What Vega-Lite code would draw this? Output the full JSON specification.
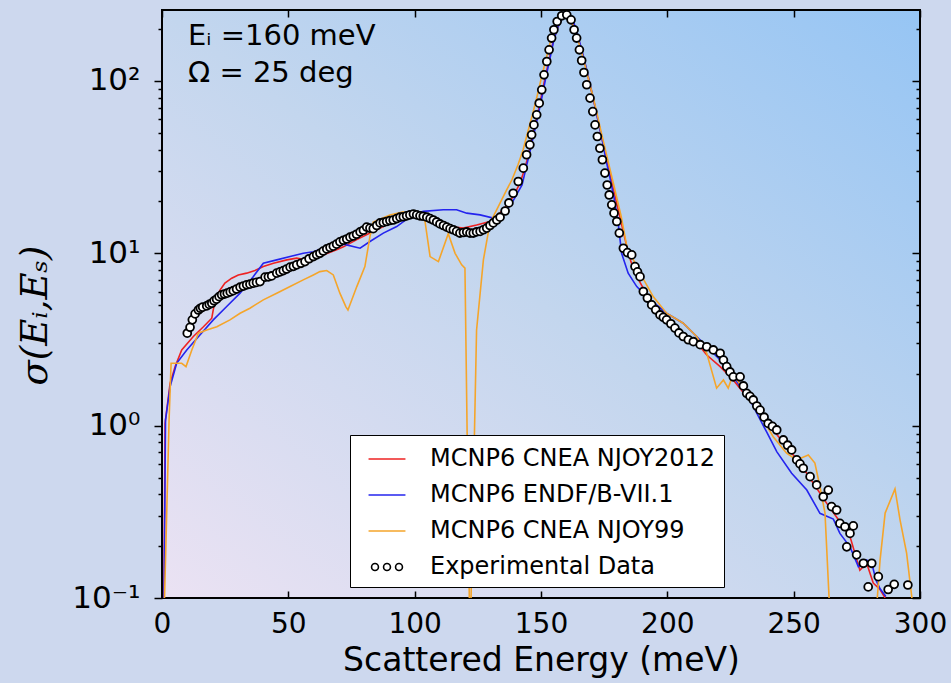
{
  "$schema": "https://vega.github.io/schema/vega-lite/v6.json",
  "width": 758,
  "height": 588,
  "autosize": {"type": "none"},
  "padding": {"left": 162, "top": 10, "right": 31, "bottom": 85},
  "background": "#cdd8ee",
  "config": {
    "view": {
      "stroke": "black",
      "strokeWidth": 2,
      "fill": {"gradient": "linear", "x1": 0, "y1": 1, "x2": 1, "y2": 0,
        "stops": [{"offset": 0, "color": "#ebe2f3"}, {"offset": 0.5, "color": "#c3d6ee"}, {"offset": 1, "color": "#96c5f4"}]}
    },
    "axis": {"grid": false, "domain": false, "labelFont": "DejaVu Sans", "labelColor": "black", "tickColor": "black", "tickWidth": 1.5, "titleFont": "DejaVu Sans", "titleColor": "black", "titleFontWeight": "normal"}
  },
  "datasets": {
    "sim": [
      {"series": "MCNP6 CNEA NJOY2012", "energy": 0.8, "sigma": 0.1},
      {"series": "MCNP6 CNEA NJOY2012", "energy": 1.2, "sigma": 1.03},
      {"series": "MCNP6 CNEA NJOY2012", "energy": 3.2, "sigma": 1.76},
      {"series": "MCNP6 CNEA NJOY2012", "energy": 5.2, "sigma": 2.2},
      {"series": "MCNP6 CNEA NJOY2012", "energy": 7.8, "sigma": 2.75},
      {"series": "MCNP6 CNEA NJOY2012", "energy": 12.4, "sigma": 3.29},
      {"series": "MCNP6 CNEA NJOY2012", "energy": 16.4, "sigma": 3.75},
      {"series": "MCNP6 CNEA NJOY2012", "energy": 19.7, "sigma": 4.2},
      {"series": "MCNP6 CNEA NJOY2012", "energy": 21.0, "sigma": 5.37},
      {"series": "MCNP6 CNEA NJOY2012", "energy": 23.0, "sigma": 6.13},
      {"series": "MCNP6 CNEA NJOY2012", "energy": 24.9, "sigma": 6.71},
      {"series": "MCNP6 CNEA NJOY2012", "energy": 27.6, "sigma": 7.17},
      {"series": "MCNP6 CNEA NJOY2012", "energy": 30.2, "sigma": 7.49},
      {"series": "MCNP6 CNEA NJOY2012", "energy": 33.5, "sigma": 7.67},
      {"series": "MCNP6 CNEA NJOY2012", "energy": 36.8, "sigma": 7.94},
      {"series": "MCNP6 CNEA NJOY2012", "energy": 40.1, "sigma": 8.37},
      {"series": "MCNP6 CNEA NJOY2012", "energy": 44.1, "sigma": 8.76},
      {"series": "MCNP6 CNEA NJOY2012", "energy": 49.4, "sigma": 9.16},
      {"series": "MCNP6 CNEA NJOY2012", "energy": 53.3, "sigma": 9.37},
      {"series": "MCNP6 CNEA NJOY2012", "energy": 56.6, "sigma": 9.16},
      {"series": "MCNP6 CNEA NJOY2012", "energy": 59.9, "sigma": 9.37},
      {"series": "MCNP6 CNEA NJOY2012", "energy": 63.8, "sigma": 9.79},
      {"series": "MCNP6 CNEA NJOY2012", "energy": 69.1, "sigma": 10.5},
      {"series": "MCNP6 CNEA NJOY2012", "energy": 71.8, "sigma": 10.9},
      {"series": "MCNP6 CNEA NJOY2012", "energy": 77.1, "sigma": 12.0},
      {"series": "MCNP6 CNEA NJOY2012", "energy": 82.3, "sigma": 13.1},
      {"series": "MCNP6 CNEA NJOY2012", "energy": 87.6, "sigma": 14.3},
      {"series": "MCNP6 CNEA NJOY2012", "energy": 92.9, "sigma": 15.6},
      {"series": "MCNP6 CNEA NJOY2012", "energy": 96.8, "sigma": 16.3},
      {"series": "MCNP6 CNEA NJOY2012", "energy": 100.8, "sigma": 16.5},
      {"series": "MCNP6 CNEA NJOY2012", "energy": 104.8, "sigma": 15.6},
      {"series": "MCNP6 CNEA NJOY2012", "energy": 108.7, "sigma": 15.0},
      {"series": "MCNP6 CNEA NJOY2012", "energy": 114.0, "sigma": 14.3},
      {"series": "MCNP6 CNEA NJOY2012", "energy": 119.2, "sigma": 14.0},
      {"series": "MCNP6 CNEA NJOY2012", "energy": 124.5, "sigma": 14.6},
      {"series": "MCNP6 CNEA NJOY2012", "energy": 129.8, "sigma": 15.3},
      {"series": "MCNP6 CNEA NJOY2012", "energy": 133.8, "sigma": 17.1},
      {"series": "MCNP6 CNEA NJOY2012", "energy": 137.7, "sigma": 20.0},
      {"series": "MCNP6 CNEA NJOY2012", "energy": 139.7, "sigma": 22.3},
      {"series": "MCNP6 CNEA NJOY2012", "energy": 141.7, "sigma": 25.6},
      {"series": "MCNP6 CNEA NJOY2012", "energy": 143.7, "sigma": 31.3},
      {"series": "MCNP6 CNEA NJOY2012", "energy": 145.2, "sigma": 38.3},
      {"series": "MCNP6 CNEA NJOY2012", "energy": 146.8, "sigma": 48.7},
      {"series": "MCNP6 CNEA NJOY2012", "energy": 148.4, "sigma": 61.9},
      {"series": "MCNP6 CNEA NJOY2012", "energy": 150.0, "sigma": 79.8},
      {"series": "MCNP6 CNEA NJOY2012", "energy": 151.6, "sigma": 104},
      {"series": "MCNP6 CNEA NJOY2012", "energy": 153.2, "sigma": 133},
      {"series": "MCNP6 CNEA NJOY2012", "energy": 154.7, "sigma": 166},
      {"series": "MCNP6 CNEA NJOY2012", "energy": 156.3, "sigma": 198},
      {"series": "MCNP6 CNEA NJOY2012", "energy": 157.9, "sigma": 226},
      {"series": "MCNP6 CNEA NJOY2012", "energy": 159.5, "sigma": 245},
      {"series": "MCNP6 CNEA NJOY2012", "energy": 161.1, "sigma": 242},
      {"series": "MCNP6 CNEA NJOY2012", "energy": 162.7, "sigma": 220},
      {"series": "MCNP6 CNEA NJOY2012", "energy": 164.2, "sigma": 188},
      {"series": "MCNP6 CNEA NJOY2012", "energy": 165.8, "sigma": 156},
      {"series": "MCNP6 CNEA NJOY2012", "energy": 167.4, "sigma": 126},
      {"series": "MCNP6 CNEA NJOY2012", "energy": 169.0, "sigma": 100},
      {"series": "MCNP6 CNEA NJOY2012", "energy": 170.6, "sigma": 79.8},
      {"series": "MCNP6 CNEA NJOY2012", "energy": 172.2, "sigma": 62.7},
      {"series": "MCNP6 CNEA NJOY2012", "energy": 173.7, "sigma": 49.3},
      {"series": "MCNP6 CNEA NJOY2012", "energy": 175.3, "sigma": 38.8},
      {"series": "MCNP6 CNEA NJOY2012", "energy": 176.9, "sigma": 30.5},
      {"series": "MCNP6 CNEA NJOY2012", "energy": 178.5, "sigma": 24.0},
      {"series": "MCNP6 CNEA NJOY2012", "energy": 180.1, "sigma": 19.1},
      {"series": "MCNP6 CNEA NJOY2012", "energy": 181.7, "sigma": 15.2},
      {"series": "MCNP6 CNEA NJOY2012", "energy": 183.6, "sigma": 11.5},
      {"series": "MCNP6 CNEA NJOY2012", "energy": 185.6, "sigma": 8.92},
      {"series": "MCNP6 CNEA NJOY2012", "energy": 187.9, "sigma": 7.32},
      {"series": "MCNP6 CNEA NJOY2012", "energy": 193.1, "sigma": 5.37},
      {"series": "MCNP6 CNEA NJOY2012", "energy": 198.4, "sigma": 4.11},
      {"series": "MCNP6 CNEA NJOY2012", "energy": 203.7, "sigma": 3.44},
      {"series": "MCNP6 CNEA NJOY2012", "energy": 207.7, "sigma": 3.14},
      {"series": "MCNP6 CNEA NJOY2012", "energy": 213.0, "sigma": 2.87},
      {"series": "MCNP6 CNEA NJOY2012", "energy": 215.6, "sigma": 2.57},
      {"series": "MCNP6 CNEA NJOY2012", "energy": 220.9, "sigma": 2.2},
      {"series": "MCNP6 CNEA NJOY2012", "energy": 226.1, "sigma": 1.84},
      {"series": "MCNP6 CNEA NJOY2012", "energy": 231.4, "sigma": 1.47},
      {"series": "MCNP6 CNEA NJOY2012", "energy": 236.7, "sigma": 1.18},
      {"series": "MCNP6 CNEA NJOY2012", "energy": 241.9, "sigma": 0.944},
      {"series": "MCNP6 CNEA NJOY2012", "energy": 247.2, "sigma": 0.755},
      {"series": "MCNP6 CNEA NJOY2012", "energy": 252.5, "sigma": 0.605},
      {"series": "MCNP6 CNEA NJOY2012", "energy": 257.8, "sigma": 0.463},
      {"series": "MCNP6 CNEA NJOY2012", "energy": 263.1, "sigma": 0.354},
      {"series": "MCNP6 CNEA NJOY2012", "energy": 268.3, "sigma": 0.277},
      {"series": "MCNP6 CNEA NJOY2012", "energy": 272.3, "sigma": 0.227},
      {"series": "MCNP6 CNEA NJOY2012", "energy": 276.2, "sigma": 0.145},
      {"series": "MCNP6 CNEA NJOY2012", "energy": 278.9, "sigma": 0.159},
      {"series": "MCNP6 CNEA NJOY2012", "energy": 281.5, "sigma": 0.122},
      {"series": "MCNP6 CNEA NJOY2012", "energy": 284.2, "sigma": 0.112},
      {"series": "MCNP6 CNEA NJOY2012", "energy": 286.2, "sigma": 0.1},

      {"series": "MCNP6 ENDF/B-VII.1", "energy": 0.8, "sigma": 0.1},
      {"series": "MCNP6 ENDF/B-VII.1", "energy": 1.4, "sigma": 1.08},
      {"series": "MCNP6 ENDF/B-VII.1", "energy": 3.2, "sigma": 1.68},
      {"series": "MCNP6 ENDF/B-VII.1", "energy": 5.8, "sigma": 2.3},
      {"series": "MCNP6 ENDF/B-VII.1", "energy": 9.8, "sigma": 2.75},
      {"series": "MCNP6 ENDF/B-VII.1", "energy": 15.0, "sigma": 3.36},
      {"series": "MCNP6 ENDF/B-VII.1", "energy": 20.3, "sigma": 4.11},
      {"series": "MCNP6 ENDF/B-VII.1", "energy": 25.6, "sigma": 4.91},
      {"series": "MCNP6 ENDF/B-VII.1", "energy": 30.9, "sigma": 5.87},
      {"series": "MCNP6 ENDF/B-VII.1", "energy": 36.1, "sigma": 7.32},
      {"series": "MCNP6 ENDF/B-VII.1", "energy": 40.1, "sigma": 8.76},
      {"series": "MCNP6 ENDF/B-VII.1", "energy": 45.4, "sigma": 9.16},
      {"series": "MCNP6 ENDF/B-VII.1", "energy": 50.7, "sigma": 9.57},
      {"series": "MCNP6 ENDF/B-VII.1", "energy": 55.9, "sigma": 10.0},
      {"series": "MCNP6 ENDF/B-VII.1", "energy": 59.9, "sigma": 10.2},
      {"series": "MCNP6 ENDF/B-VII.1", "energy": 63.8, "sigma": 10.7},
      {"series": "MCNP6 ENDF/B-VII.1", "energy": 71.8, "sigma": 11.3},
      {"series": "MCNP6 ENDF/B-VII.1", "energy": 78.4, "sigma": 10.7},
      {"series": "MCNP6 ENDF/B-VII.1", "energy": 82.3, "sigma": 11.7},
      {"series": "MCNP6 ENDF/B-VII.1", "energy": 87.6, "sigma": 13.1},
      {"series": "MCNP6 ENDF/B-VII.1", "energy": 92.9, "sigma": 14.3},
      {"series": "MCNP6 ENDF/B-VII.1", "energy": 98.2, "sigma": 16.3},
      {"series": "MCNP6 ENDF/B-VII.1", "energy": 103.4, "sigma": 17.5},
      {"series": "MCNP6 ENDF/B-VII.1", "energy": 111.3, "sigma": 17.9},
      {"series": "MCNP6 ENDF/B-VII.1", "energy": 116.6, "sigma": 17.9},
      {"series": "MCNP6 ENDF/B-VII.1", "energy": 120.6, "sigma": 17.1},
      {"series": "MCNP6 ENDF/B-VII.1", "energy": 125.9, "sigma": 16.7},
      {"series": "MCNP6 ENDF/B-VII.1", "energy": 131.1, "sigma": 16.0},
      {"series": "MCNP6 ENDF/B-VII.1", "energy": 135.1, "sigma": 16.7},
      {"series": "MCNP6 ENDF/B-VII.1", "energy": 138.4, "sigma": 19.5},
      {"series": "MCNP6 ENDF/B-VII.1", "energy": 141.0, "sigma": 22.8},
      {"series": "MCNP6 ENDF/B-VII.1", "energy": 142.5, "sigma": 24.9},
      {"series": "MCNP6 ENDF/B-VII.1", "energy": 144.1, "sigma": 31.3},
      {"series": "MCNP6 ENDF/B-VII.1", "energy": 145.6, "sigma": 38.8},
      {"series": "MCNP6 ENDF/B-VII.1", "energy": 147.2, "sigma": 49.3},
      {"series": "MCNP6 ENDF/B-VII.1", "energy": 148.8, "sigma": 62.7},
      {"series": "MCNP6 ENDF/B-VII.1", "energy": 150.4, "sigma": 80.9},
      {"series": "MCNP6 ENDF/B-VII.1", "energy": 152.0, "sigma": 106},
      {"series": "MCNP6 ENDF/B-VII.1", "energy": 153.6, "sigma": 136},
      {"series": "MCNP6 ENDF/B-VII.1", "energy": 155.1, "sigma": 173},
      {"series": "MCNP6 ENDF/B-VII.1", "energy": 156.7, "sigma": 206},
      {"series": "MCNP6 ENDF/B-VII.1", "energy": 158.3, "sigma": 232},
      {"series": "MCNP6 ENDF/B-VII.1", "energy": 159.9, "sigma": 245},
      {"series": "MCNP6 ENDF/B-VII.1", "energy": 161.5, "sigma": 239},
      {"series": "MCNP6 ENDF/B-VII.1", "energy": 163.1, "sigma": 215},
      {"series": "MCNP6 ENDF/B-VII.1", "energy": 164.6, "sigma": 183},
      {"series": "MCNP6 ENDF/B-VII.1", "energy": 166.2, "sigma": 150},
      {"series": "MCNP6 ENDF/B-VII.1", "energy": 167.8, "sigma": 121},
      {"series": "MCNP6 ENDF/B-VII.1", "energy": 169.4, "sigma": 96.2},
      {"series": "MCNP6 ENDF/B-VII.1", "energy": 171.0, "sigma": 75.6},
      {"series": "MCNP6 ENDF/B-VII.1", "energy": 172.5, "sigma": 59.5},
      {"series": "MCNP6 ENDF/B-VII.1", "energy": 174.1, "sigma": 46.8},
      {"series": "MCNP6 ENDF/B-VII.1", "energy": 175.7, "sigma": 34.9},
      {"series": "MCNP6 ENDF/B-VII.1", "energy": 177.3, "sigma": 27.4},
      {"series": "MCNP6 ENDF/B-VII.1", "energy": 178.9, "sigma": 21.0},
      {"series": "MCNP6 ENDF/B-VII.1", "energy": 180.5, "sigma": 15.2},
      {"series": "MCNP6 ENDF/B-VII.1", "energy": 181.9, "sigma": 10.0},
      {"series": "MCNP6 ENDF/B-VII.1", "energy": 184.5, "sigma": 7.67},
      {"series": "MCNP6 ENDF/B-VII.1", "energy": 187.9, "sigma": 6.41},
      {"series": "MCNP6 ENDF/B-VII.1", "energy": 191.8, "sigma": 5.61},
      {"series": "MCNP6 ENDF/B-VII.1", "energy": 199.7, "sigma": 4.49},
      {"series": "MCNP6 ENDF/B-VII.1", "energy": 206.3, "sigma": 3.93},
      {"series": "MCNP6 ENDF/B-VII.1", "energy": 211.6, "sigma": 3.29},
      {"series": "MCNP6 ENDF/B-VII.1", "energy": 216.9, "sigma": 2.75},
      {"series": "MCNP6 ENDF/B-VII.1", "energy": 220.9, "sigma": 2.41},
      {"series": "MCNP6 ENDF/B-VII.1", "energy": 226.1, "sigma": 1.92},
      {"series": "MCNP6 ENDF/B-VII.1", "energy": 232.7, "sigma": 1.41},
      {"series": "MCNP6 ENDF/B-VII.1", "energy": 235.4, "sigma": 1.18},
      {"series": "MCNP6 ENDF/B-VII.1", "energy": 239.3, "sigma": 0.919},
      {"series": "MCNP6 ENDF/B-VII.1", "energy": 243.3, "sigma": 0.707},
      {"series": "MCNP6 ENDF/B-VII.1", "energy": 249.2, "sigma": 0.53},
      {"series": "MCNP6 ENDF/B-VII.1", "energy": 255.2, "sigma": 0.423},
      {"series": "MCNP6 ENDF/B-VII.1", "energy": 260.4, "sigma": 0.31},
      {"series": "MCNP6 ENDF/B-VII.1", "energy": 265.7, "sigma": 0.287},
      {"series": "MCNP6 ENDF/B-VII.1", "energy": 268.3, "sigma": 0.237},
      {"series": "MCNP6 ENDF/B-VII.1", "energy": 272.3, "sigma": 0.198},
      {"series": "MCNP6 ENDF/B-VII.1", "energy": 275.6, "sigma": 0.152},
      {"series": "MCNP6 ENDF/B-VII.1", "energy": 278.9, "sigma": 0.166},
      {"series": "MCNP6 ENDF/B-VII.1", "energy": 280.9, "sigma": 0.159},
      {"series": "MCNP6 ENDF/B-VII.1", "energy": 282.6, "sigma": 0.127},
      {"series": "MCNP6 ENDF/B-VII.1", "energy": 284.2, "sigma": 0.113},
      {"series": "MCNP6 ENDF/B-VII.1", "energy": 286.5, "sigma": 0.102},

      {"series": "MCNP6 CNEA NJOY99", "energy": 1.0, "sigma": 0.1},
      {"series": "MCNP6 CNEA NJOY99", "energy": 2.0, "sigma": 0.371},
      {"series": "MCNP6 CNEA NJOY99", "energy": 2.8, "sigma": 1.08},
      {"series": "MCNP6 CNEA NJOY99", "energy": 3.6, "sigma": 2.3},
      {"series": "MCNP6 CNEA NJOY99", "energy": 5.8, "sigma": 2.3},
      {"series": "MCNP6 CNEA NJOY99", "energy": 7.8, "sigma": 2.3},
      {"series": "MCNP6 CNEA NJOY99", "energy": 9.5, "sigma": 2.2},
      {"series": "MCNP6 CNEA NJOY99", "energy": 11.8, "sigma": 2.75},
      {"series": "MCNP6 CNEA NJOY99", "energy": 14.4, "sigma": 3.44},
      {"series": "MCNP6 CNEA NJOY99", "energy": 17.7, "sigma": 3.59},
      {"series": "MCNP6 CNEA NJOY99", "energy": 21.7, "sigma": 3.75},
      {"series": "MCNP6 CNEA NJOY99", "energy": 26.9, "sigma": 4.11},
      {"series": "MCNP6 CNEA NJOY99", "energy": 30.9, "sigma": 4.49},
      {"series": "MCNP6 CNEA NJOY99", "energy": 34.8, "sigma": 4.8},
      {"series": "MCNP6 CNEA NJOY99", "energy": 40.1, "sigma": 5.37},
      {"series": "MCNP6 CNEA NJOY99", "energy": 45.4, "sigma": 5.87},
      {"series": "MCNP6 CNEA NJOY99", "energy": 50.7, "sigma": 6.41},
      {"series": "MCNP6 CNEA NJOY99", "energy": 55.9, "sigma": 7.01},
      {"series": "MCNP6 CNEA NJOY99", "energy": 59.9, "sigma": 7.49},
      {"series": "MCNP6 CNEA NJOY99", "energy": 62.5, "sigma": 7.83},
      {"series": "MCNP6 CNEA NJOY99", "energy": 65.2, "sigma": 7.94},
      {"series": "MCNP6 CNEA NJOY99", "energy": 67.8, "sigma": 7.49},
      {"series": "MCNP6 CNEA NJOY99", "energy": 70.4, "sigma": 5.87},
      {"series": "MCNP6 CNEA NJOY99", "energy": 72.8, "sigma": 4.89},
      {"series": "MCNP6 CNEA NJOY99", "energy": 73.6, "sigma": 4.69},
      {"series": "MCNP6 CNEA NJOY99", "energy": 77.1, "sigma": 6.41},
      {"series": "MCNP6 CNEA NJOY99", "energy": 80.3, "sigma": 8.37},
      {"series": "MCNP6 CNEA NJOY99", "energy": 82.3, "sigma": 12.5},
      {"series": "MCNP6 CNEA NJOY99", "energy": 83.6, "sigma": 15.2},
      {"series": "MCNP6 CNEA NJOY99", "energy": 90.2, "sigma": 16.7},
      {"series": "MCNP6 CNEA NJOY99", "energy": 95.5, "sigma": 17.4},
      {"series": "MCNP6 CNEA NJOY99", "energy": 98.2, "sigma": 16.3},
      {"series": "MCNP6 CNEA NJOY99", "energy": 102.1, "sigma": 17.1},
      {"series": "MCNP6 CNEA NJOY99", "energy": 104.1, "sigma": 15.3},
      {"series": "MCNP6 CNEA NJOY99", "energy": 106.1, "sigma": 9.57},
      {"series": "MCNP6 CNEA NJOY99", "energy": 109.4, "sigma": 8.95},
      {"series": "MCNP6 CNEA NJOY99", "energy": 113.3, "sigma": 13.0},
      {"series": "MCNP6 CNEA NJOY99", "energy": 116.0, "sigma": 10.0},
      {"series": "MCNP6 CNEA NJOY99", "energy": 118.6, "sigma": 8.57},
      {"series": "MCNP6 CNEA NJOY99", "energy": 119.9, "sigma": 8.2},
      {"series": "MCNP6 CNEA NJOY99", "energy": 121.9, "sigma": 0.05},
      {"series": "MCNP6 CNEA NJOY99", "energy": 124.5, "sigma": 3.59},
      {"series": "MCNP6 CNEA NJOY99", "energy": 127.2, "sigma": 9.16},
      {"series": "MCNP6 CNEA NJOY99", "energy": 129.8, "sigma": 15.0},
      {"series": "MCNP6 CNEA NJOY99", "energy": 132.5, "sigma": 17.9},
      {"series": "MCNP6 CNEA NJOY99", "energy": 136.4, "sigma": 23.3},
      {"series": "MCNP6 CNEA NJOY99", "energy": 138.5, "sigma": 26.7},
      {"series": "MCNP6 CNEA NJOY99", "energy": 140.9, "sigma": 32.6},
      {"series": "MCNP6 CNEA NJOY99", "energy": 142.9, "sigma": 39.8},
      {"series": "MCNP6 CNEA NJOY99", "energy": 144.8, "sigma": 50.7},
      {"series": "MCNP6 CNEA NJOY99", "energy": 146.8, "sigma": 65.3},
      {"series": "MCNP6 CNEA NJOY99", "energy": 148.4, "sigma": 80.9},
      {"series": "MCNP6 CNEA NJOY99", "energy": 150.0, "sigma": 102},
      {"series": "MCNP6 CNEA NJOY99", "energy": 151.6, "sigma": 127},
      {"series": "MCNP6 CNEA NJOY99", "energy": 153.2, "sigma": 158},
      {"series": "MCNP6 CNEA NJOY99", "energy": 154.7, "sigma": 190},
      {"series": "MCNP6 CNEA NJOY99", "energy": 156.3, "sigma": 217},
      {"series": "MCNP6 CNEA NJOY99", "energy": 157.9, "sigma": 239},
      {"series": "MCNP6 CNEA NJOY99", "energy": 159.5, "sigma": 242},
      {"series": "MCNP6 CNEA NJOY99", "energy": 161.1, "sigma": 232},
      {"series": "MCNP6 CNEA NJOY99", "energy": 162.7, "sigma": 209},
      {"series": "MCNP6 CNEA NJOY99", "energy": 164.2, "sigma": 180},
      {"series": "MCNP6 CNEA NJOY99", "energy": 165.8, "sigma": 152},
      {"series": "MCNP6 CNEA NJOY99", "energy": 167.4, "sigma": 124},
      {"series": "MCNP6 CNEA NJOY99", "energy": 169.0, "sigma": 100},
      {"series": "MCNP6 CNEA NJOY99", "energy": 170.6, "sigma": 80.9},
      {"series": "MCNP6 CNEA NJOY99", "energy": 172.2, "sigma": 64.4},
      {"series": "MCNP6 CNEA NJOY99", "energy": 173.7, "sigma": 51.3},
      {"series": "MCNP6 CNEA NJOY99", "energy": 175.3, "sigma": 40.9},
      {"series": "MCNP6 CNEA NJOY99", "energy": 176.9, "sigma": 32.6},
      {"series": "MCNP6 CNEA NJOY99", "energy": 178.5, "sigma": 26.0},
      {"series": "MCNP6 CNEA NJOY99", "energy": 180.1, "sigma": 20.7},
      {"series": "MCNP6 CNEA NJOY99", "energy": 181.7, "sigma": 16.5},
      {"series": "MCNP6 CNEA NJOY99", "energy": 184.0, "sigma": 10.9},
      {"series": "MCNP6 CNEA NJOY99", "energy": 189.2, "sigma": 7.67},
      {"series": "MCNP6 CNEA NJOY99", "energy": 194.4, "sigma": 5.61},
      {"series": "MCNP6 CNEA NJOY99", "energy": 199.7, "sigma": 4.49},
      {"series": "MCNP6 CNEA NJOY99", "energy": 206.3, "sigma": 3.93},
      {"series": "MCNP6 CNEA NJOY99", "energy": 211.6, "sigma": 3.29},
      {"series": "MCNP6 CNEA NJOY99", "energy": 215.6, "sigma": 2.63},
      {"series": "MCNP6 CNEA NJOY99", "energy": 219.5, "sigma": 1.65},
      {"series": "MCNP6 CNEA NJOY99", "energy": 222.2, "sigma": 1.84},
      {"series": "MCNP6 CNEA NJOY99", "energy": 224.1, "sigma": 1.65},
      {"series": "MCNP6 CNEA NJOY99", "energy": 226.1, "sigma": 2.01},
      {"series": "MCNP6 CNEA NJOY99", "energy": 230.1, "sigma": 1.61},
      {"series": "MCNP6 CNEA NJOY99", "energy": 234.0, "sigma": 1.35},
      {"series": "MCNP6 CNEA NJOY99", "energy": 238.0, "sigma": 1.08},
      {"series": "MCNP6 CNEA NJOY99", "energy": 241.9, "sigma": 0.863},
      {"series": "MCNP6 CNEA NJOY99", "energy": 247.2, "sigma": 0.692},
      {"series": "MCNP6 CNEA NJOY99", "energy": 251.2, "sigma": 0.633},
      {"series": "MCNP6 CNEA NJOY99", "energy": 255.8, "sigma": 0.676},
      {"series": "MCNP6 CNEA NJOY99", "energy": 258.4, "sigma": 0.607},
      {"series": "MCNP6 CNEA NJOY99", "energy": 260.4, "sigma": 0.443},
      {"series": "MCNP6 CNEA NJOY99", "energy": 262.4, "sigma": 0.311},
      {"series": "MCNP6 CNEA NJOY99", "energy": 265.0, "sigma": 0.05},
      {"series": "MCNP6 CNEA NJOY99", "energy": 281.6, "sigma": 0.05},
      {"series": "MCNP6 CNEA NJOY99", "energy": 284.2, "sigma": 0.166},
      {"series": "MCNP6 CNEA NJOY99", "energy": 286.2, "sigma": 0.311},
      {"series": "MCNP6 CNEA NJOY99", "energy": 290.1, "sigma": 0.429},
      {"series": "MCNP6 CNEA NJOY99", "energy": 292.1, "sigma": 0.284},
      {"series": "MCNP6 CNEA NJOY99", "energy": 294.7, "sigma": 0.182},
      {"series": "MCNP6 CNEA NJOY99", "energy": 296.8, "sigma": 0.1}
    ],
    "exp": [
      {"series": "Experimental Data", "energy": 10.0, "sigma": 3.44},
      {"series": "Experimental Data", "energy": 11.1, "sigma": 3.72},
      {"series": "Experimental Data", "energy": 12.0, "sigma": 4.11},
      {"series": "Experimental Data", "energy": 13.1, "sigma": 4.45},
      {"series": "Experimental Data", "energy": 14.4, "sigma": 4.69},
      {"series": "Experimental Data", "energy": 15.2, "sigma": 4.8},
      {"series": "Experimental Data", "energy": 16.1, "sigma": 4.87},
      {"series": "Experimental Data", "energy": 17.7, "sigma": 4.95},
      {"series": "Experimental Data", "energy": 18.7, "sigma": 5.05},
      {"series": "Experimental Data", "energy": 19.7, "sigma": 5.13},
      {"series": "Experimental Data", "energy": 20.6, "sigma": 5.3},
      {"series": "Experimental Data", "energy": 21.6, "sigma": 5.42},
      {"series": "Experimental Data", "energy": 22.6, "sigma": 5.6},
      {"series": "Experimental Data", "energy": 23.6, "sigma": 5.74},
      {"series": "Experimental Data", "energy": 24.7, "sigma": 5.8},
      {"series": "Experimental Data", "energy": 25.8, "sigma": 5.87},
      {"series": "Experimental Data", "energy": 27.0, "sigma": 5.97},
      {"series": "Experimental Data", "energy": 28.2, "sigma": 6.07},
      {"series": "Experimental Data", "energy": 29.5, "sigma": 6.2},
      {"series": "Experimental Data", "energy": 30.9, "sigma": 6.36},
      {"series": "Experimental Data", "energy": 32.2, "sigma": 6.45},
      {"series": "Experimental Data", "energy": 33.5, "sigma": 6.56},
      {"series": "Experimental Data", "energy": 34.8, "sigma": 6.62},
      {"series": "Experimental Data", "energy": 36.1, "sigma": 6.71},
      {"series": "Experimental Data", "energy": 37.4, "sigma": 6.78},
      {"series": "Experimental Data", "energy": 38.8, "sigma": 6.85},
      {"series": "Experimental Data", "energy": 40.8, "sigma": 7.27},
      {"series": "Experimental Data", "energy": 42.1, "sigma": 7.3},
      {"series": "Experimental Data", "energy": 43.4, "sigma": 7.39},
      {"series": "Experimental Data", "energy": 45.4, "sigma": 7.67},
      {"series": "Experimental Data", "energy": 46.7, "sigma": 7.8},
      {"series": "Experimental Data", "energy": 48.0, "sigma": 7.94},
      {"series": "Experimental Data", "energy": 49.3, "sigma": 8.1},
      {"series": "Experimental Data", "energy": 50.7, "sigma": 8.31},
      {"series": "Experimental Data", "energy": 52.0, "sigma": 8.4},
      {"series": "Experimental Data", "energy": 53.3, "sigma": 8.57},
      {"series": "Experimental Data", "energy": 55.0, "sigma": 8.75},
      {"series": "Experimental Data", "energy": 56.6, "sigma": 8.95},
      {"series": "Experimental Data", "energy": 58.2, "sigma": 9.3},
      {"series": "Experimental Data", "energy": 59.9, "sigma": 9.57},
      {"series": "Experimental Data", "energy": 61.2, "sigma": 9.8},
      {"series": "Experimental Data", "energy": 62.5, "sigma": 10.0},
      {"series": "Experimental Data", "energy": 63.8, "sigma": 10.3},
      {"series": "Experimental Data", "energy": 65.2, "sigma": 10.6},
      {"series": "Experimental Data", "energy": 66.5, "sigma": 10.8},
      {"series": "Experimental Data", "energy": 67.8, "sigma": 11.0},
      {"series": "Experimental Data", "energy": 69.1, "sigma": 11.3},
      {"series": "Experimental Data", "energy": 70.4, "sigma": 11.65},
      {"series": "Experimental Data", "energy": 71.8, "sigma": 11.9},
      {"series": "Experimental Data", "energy": 73.1, "sigma": 12.1},
      {"series": "Experimental Data", "energy": 74.4, "sigma": 12.4},
      {"series": "Experimental Data", "energy": 75.7, "sigma": 12.6},
      {"series": "Experimental Data", "energy": 77.0, "sigma": 12.9},
      {"series": "Experimental Data", "energy": 78.4, "sigma": 13.3},
      {"series": "Experimental Data", "energy": 79.7, "sigma": 13.6},
      {"series": "Experimental Data", "energy": 81.0, "sigma": 14.2},
      {"series": "Experimental Data", "energy": 82.3, "sigma": 14.0},
      {"series": "Experimental Data", "energy": 83.6, "sigma": 13.9},
      {"series": "Experimental Data", "energy": 85.0, "sigma": 14.5},
      {"series": "Experimental Data", "energy": 86.3, "sigma": 15.0},
      {"series": "Experimental Data", "energy": 87.6, "sigma": 15.1},
      {"series": "Experimental Data", "energy": 88.9, "sigma": 15.3},
      {"series": "Experimental Data", "energy": 90.2, "sigma": 15.5},
      {"series": "Experimental Data", "energy": 91.5, "sigma": 15.6},
      {"series": "Experimental Data", "energy": 92.9, "sigma": 15.9},
      {"series": "Experimental Data", "energy": 94.2, "sigma": 16.2},
      {"series": "Experimental Data", "energy": 95.5, "sigma": 16.3},
      {"series": "Experimental Data", "energy": 96.8, "sigma": 16.5},
      {"series": "Experimental Data", "energy": 98.1, "sigma": 16.7},
      {"series": "Experimental Data", "energy": 99.5, "sigma": 16.9},
      {"series": "Experimental Data", "energy": 100.8, "sigma": 16.7},
      {"series": "Experimental Data", "energy": 102.1, "sigma": 16.5},
      {"series": "Experimental Data", "energy": 103.4, "sigma": 16.4},
      {"series": "Experimental Data", "energy": 104.8, "sigma": 16.2},
      {"series": "Experimental Data", "energy": 106.1, "sigma": 15.9},
      {"series": "Experimental Data", "energy": 107.4, "sigma": 15.6},
      {"series": "Experimental Data", "energy": 108.7, "sigma": 15.2},
      {"series": "Experimental Data", "energy": 110.0, "sigma": 14.8},
      {"series": "Experimental Data", "energy": 111.4, "sigma": 14.5},
      {"series": "Experimental Data", "energy": 112.7, "sigma": 14.2},
      {"series": "Experimental Data", "energy": 114.0, "sigma": 13.9},
      {"series": "Experimental Data", "energy": 115.3, "sigma": 13.7},
      {"series": "Experimental Data", "energy": 116.6, "sigma": 13.4},
      {"series": "Experimental Data", "energy": 117.9, "sigma": 13.1},
      {"series": "Experimental Data", "energy": 119.3, "sigma": 13.2},
      {"series": "Experimental Data", "energy": 120.6, "sigma": 13.3},
      {"series": "Experimental Data", "energy": 121.9, "sigma": 13.1},
      {"series": "Experimental Data", "energy": 123.2, "sigma": 13.1},
      {"series": "Experimental Data", "energy": 124.5, "sigma": 13.3},
      {"series": "Experimental Data", "energy": 125.9, "sigma": 13.4},
      {"series": "Experimental Data", "energy": 127.2, "sigma": 13.7},
      {"series": "Experimental Data", "energy": 128.5, "sigma": 14.0},
      {"series": "Experimental Data", "energy": 129.8, "sigma": 14.5},
      {"series": "Experimental Data", "energy": 131.1, "sigma": 15.0},
      {"series": "Experimental Data", "energy": 132.5, "sigma": 15.6},
      {"series": "Experimental Data", "energy": 133.8, "sigma": 16.2},
      {"series": "Experimental Data", "energy": 135.8, "sigma": 17.6},
      {"series": "Experimental Data", "energy": 137.3, "sigma": 19.6},
      {"series": "Experimental Data", "energy": 139.0, "sigma": 22.3},
      {"series": "Experimental Data", "energy": 141.0, "sigma": 26.1},
      {"series": "Experimental Data", "energy": 143.0, "sigma": 31.2},
      {"series": "Experimental Data", "energy": 144.3, "sigma": 37.3},
      {"series": "Experimental Data", "energy": 145.6, "sigma": 42.6},
      {"series": "Experimental Data", "energy": 146.3, "sigma": 48.7},
      {"series": "Experimental Data", "energy": 147.2, "sigma": 55.6},
      {"series": "Experimental Data", "energy": 148.3, "sigma": 63.6},
      {"series": "Experimental Data", "energy": 149.3, "sigma": 74.3},
      {"series": "Experimental Data", "energy": 150.3, "sigma": 88.8},
      {"series": "Experimental Data", "energy": 151.2, "sigma": 108.5},
      {"series": "Experimental Data", "energy": 152.3, "sigma": 129.7},
      {"series": "Experimental Data", "energy": 153.2, "sigma": 151.6},
      {"series": "Experimental Data", "energy": 154.2, "sigma": 177.3},
      {"series": "Experimental Data", "energy": 155.1, "sigma": 198.1},
      {"series": "Experimental Data", "energy": 156.4, "sigma": 221.2},
      {"series": "Experimental Data", "energy": 158.2, "sigma": 238.8},
      {"series": "Experimental Data", "energy": 160.2, "sigma": 241.9},
      {"series": "Experimental Data", "energy": 161.9, "sigma": 226.3},
      {"series": "Experimental Data", "energy": 163.1, "sigma": 198.1},
      {"series": "Experimental Data", "energy": 164.1, "sigma": 177.3},
      {"series": "Experimental Data", "energy": 165.2, "sigma": 151.6},
      {"series": "Experimental Data", "energy": 166.1, "sigma": 131.4},
      {"series": "Experimental Data", "energy": 167.0, "sigma": 111.9},
      {"series": "Experimental Data", "energy": 168.1, "sigma": 95.0},
      {"series": "Experimental Data", "energy": 169.4, "sigma": 79.5},
      {"series": "Experimental Data", "energy": 170.5, "sigma": 66.4},
      {"series": "Experimental Data", "energy": 171.4, "sigma": 55.6},
      {"series": "Experimental Data", "energy": 172.3, "sigma": 47.6},
      {"series": "Experimental Data", "energy": 173.3, "sigma": 40.7},
      {"series": "Experimental Data", "energy": 174.3, "sigma": 34.9},
      {"series": "Experimental Data", "energy": 175.3, "sigma": 29.2},
      {"series": "Experimental Data", "energy": 176.2, "sigma": 24.9},
      {"series": "Experimental Data", "energy": 177.0, "sigma": 21.8},
      {"series": "Experimental Data", "energy": 178.0, "sigma": 19.1},
      {"series": "Experimental Data", "energy": 178.9, "sigma": 17.1},
      {"series": "Experimental Data", "energy": 180.0, "sigma": 15.3},
      {"series": "Experimental Data", "energy": 181.0, "sigma": 13.1},
      {"series": "Experimental Data", "energy": 182.6, "sigma": 10.7},
      {"series": "Experimental Data", "energy": 184.2, "sigma": 10.1},
      {"series": "Experimental Data", "energy": 185.9, "sigma": 9.79},
      {"series": "Experimental Data", "energy": 187.2, "sigma": 8.37},
      {"series": "Experimental Data", "energy": 188.2, "sigma": 7.8},
      {"series": "Experimental Data", "energy": 189.2, "sigma": 7.32},
      {"series": "Experimental Data", "energy": 190.5, "sigma": 6.0},
      {"series": "Experimental Data", "energy": 192.1, "sigma": 5.5},
      {"series": "Experimental Data", "energy": 193.8, "sigma": 5.02},
      {"series": "Experimental Data", "energy": 195.4, "sigma": 4.7},
      {"series": "Experimental Data", "energy": 197.1, "sigma": 4.39},
      {"series": "Experimental Data", "energy": 198.4, "sigma": 4.25},
      {"series": "Experimental Data", "energy": 199.7, "sigma": 4.11},
      {"series": "Experimental Data", "energy": 201.4, "sigma": 3.9},
      {"series": "Experimental Data", "energy": 203.0, "sigma": 3.68},
      {"series": "Experimental Data", "energy": 204.6, "sigma": 3.45},
      {"series": "Experimental Data", "energy": 206.3, "sigma": 3.29},
      {"series": "Experimental Data", "energy": 208.3, "sigma": 3.15},
      {"series": "Experimental Data", "energy": 210.3, "sigma": 3.07},
      {"series": "Experimental Data", "energy": 213.0, "sigma": 2.95},
      {"series": "Experimental Data", "energy": 215.6, "sigma": 2.87},
      {"series": "Experimental Data", "energy": 218.2, "sigma": 2.75},
      {"series": "Experimental Data", "energy": 220.9, "sigma": 2.63},
      {"series": "Experimental Data", "energy": 222.2, "sigma": 2.4},
      {"series": "Experimental Data", "energy": 223.5, "sigma": 2.2},
      {"series": "Experimental Data", "energy": 224.8, "sigma": 2.05},
      {"series": "Experimental Data", "energy": 226.1, "sigma": 1.92},
      {"series": "Experimental Data", "energy": 228.8, "sigma": 1.92},
      {"series": "Experimental Data", "energy": 230.1, "sigma": 1.7},
      {"series": "Experimental Data", "energy": 231.4, "sigma": 1.54},
      {"series": "Experimental Data", "energy": 232.7, "sigma": 1.48},
      {"series": "Experimental Data", "energy": 234.0, "sigma": 1.41},
      {"series": "Experimental Data", "energy": 235.4, "sigma": 1.3},
      {"series": "Experimental Data", "energy": 236.7, "sigma": 1.23},
      {"series": "Experimental Data", "energy": 238.3, "sigma": 1.12},
      {"series": "Experimental Data", "energy": 239.9, "sigma": 1.03},
      {"series": "Experimental Data", "energy": 241.6, "sigma": 0.99},
      {"series": "Experimental Data", "energy": 243.3, "sigma": 0.944},
      {"series": "Experimental Data", "energy": 245.9, "sigma": 0.826},
      {"series": "Experimental Data", "energy": 247.6, "sigma": 0.77},
      {"series": "Experimental Data", "energy": 249.2, "sigma": 0.723},
      {"series": "Experimental Data", "energy": 251.2, "sigma": 0.633},
      {"series": "Experimental Data", "energy": 252.5, "sigma": 0.6},
      {"series": "Experimental Data", "energy": 253.8, "sigma": 0.566},
      {"series": "Experimental Data", "energy": 256.5, "sigma": 0.506},
      {"series": "Experimental Data", "energy": 259.1, "sigma": 0.453},
      {"series": "Experimental Data", "energy": 261.7, "sigma": 0.387},
      {"series": "Experimental Data", "energy": 263.7, "sigma": 0.423},
      {"series": "Experimental Data", "energy": 265.0, "sigma": 0.339},
      {"series": "Experimental Data", "energy": 267.0, "sigma": 0.324},
      {"series": "Experimental Data", "energy": 268.3, "sigma": 0.271},
      {"series": "Experimental Data", "energy": 270.3, "sigma": 0.259},
      {"series": "Experimental Data", "energy": 271.0, "sigma": 0.198},
      {"series": "Experimental Data", "energy": 272.3, "sigma": 0.237},
      {"series": "Experimental Data", "energy": 273.6, "sigma": 0.262},
      {"series": "Experimental Data", "energy": 274.9, "sigma": 0.178},
      {"series": "Experimental Data", "energy": 277.6, "sigma": 0.159},
      {"series": "Experimental Data", "energy": 279.5, "sigma": 0.116},
      {"series": "Experimental Data", "energy": 280.9, "sigma": 0.159},
      {"series": "Experimental Data", "energy": 283.5, "sigma": 0.133},
      {"series": "Experimental Data", "energy": 287.4, "sigma": 0.112},
      {"series": "Experimental Data", "energy": 289.8, "sigma": 0.12},
      {"series": "Experimental Data", "energy": 295.2, "sigma": 0.119}
    ]
  },
  "layer": [
    {
      "data": {"name": "sim"},
      "mark": {"type": "line", "strokeWidth": 1.6, "clip": true},
      "encoding": {
        "x": {"field": "energy", "type": "quantitative",
          "scale": {"domain": [0, 300], "nice": false, "zero": false},
          "axis": {"orient": "bottom", "values": [0, 50, 100, 150, 200, 250, 300], "tickSize": -7, "labelFontSize": 28, "labelPadding": 19, "labelFlush": false,
            "title": "Scattered Energy (meV)", "titleFontSize": 33, "titleX": 379, "titleY": 62, "titleBaseline": "middle", "titleAlign": "center"}},
        "y": {"field": "sigma", "type": "quantitative",
          "scale": {"type": "log", "domain": [0.1, 258], "nice": false},
          "axis": {"orient": "left", "values": [0.1, 1, 10, 100], "tickSize": 8, "labelFontSize": 31, "labelPadding": 14,
            "labelExpr": "datum.value > 50 ? '10²' : datum.value > 5 ? '10¹' : datum.value > 0.5 ? '10⁰' : '10⁻¹'",
            "title": "σ(Eᵢ,Eₛ)", "titleFont": "DejaVu Serif", "titleFontStyle": "italic", "titleFontSize": 37,
            "titleAngle": -90, "titleX": -127, "titleY": 305, "titleAlign": "center", "titleBaseline": "middle"}},
        "color": {"field": "series", "type": "nominal",
          "scale": {"domain": ["MCNP6 CNEA NJOY2012", "MCNP6 ENDF/B-VII.1", "MCNP6 CNEA NJOY99", "Experimental Data"],
            "range": ["#ee2222", "#2424ee", "#f5a52a", "black"]},
          "legend": {"orient": "none", "legendX": 188, "legendY": 425, "title": null,
            "fillColor": "white", "strokeColor": "black", "padding": 8,
            "labelFont": "DejaVu Sans", "labelFontSize": 24, "labelColor": "black", "labelLimit": 500, "labelOffset": 27,
            "symbolSize": 900, "symbolStrokeWidth": 1.6, "symbolOffset": 13, "rowPadding": 8,
            "symbolType": "M-1.23,0L1.23,0",
            "encode": {"symbols": {"update": {
              "shape": {"signal": "datum.value === 'Experimental Data' ? 'M-1.03,0a0.23,0.23 0 1,0 0.46,0a0.23,0.23 0 1,0 -0.46,0M-0.23,0a0.23,0.23 0 1,0 0.46,0a0.23,0.23 0 1,0 -0.46,0M0.57,0a0.23,0.23 0 1,0 0.46,0a0.23,0.23 0 1,0 -0.46,0' : 'M-1.23,0L1.23,0'"},
              "fill": {"value": "white"},
              "fillOpacity": {"value": 1}
            }}}}
        }
      }
    },
    {
      "data": {"name": "exp"},
      "mark": {"type": "point", "shape": "circle", "filled": false, "fill": "white", "fillOpacity": 1, "size": 62, "strokeWidth": 1.8, "opacity": 1, "clip": true},
      "encoding": {
        "x": {"field": "energy", "type": "quantitative", "scale": {"domain": [0, 300], "nice": false, "zero": false},
          "axis": {"orient": "top", "values": [0, 50, 100, 150, 200, 250, 300], "tickSize": -7, "labels": false, "title": null}},
        "y": {"field": "sigma", "type": "quantitative", "scale": {"type": "log", "domain": [0.1, 258], "nice": false},
          "axis": {"orient": "right", "values": [0.1, 1, 10, 100], "tickSize": -8, "labels": false, "title": null}},
        "color": {"field": "series", "type": "nominal"}
      }
    },
    {
      "data": {"values": [{"label": "Eᵢ =160 meV", "energy": 10.3, "sigma": 162}]},
      "mark": {"type": "text", "align": "left", "baseline": "alphabetic", "font": "DejaVu Sans", "fontSize": 29, "color": "black"},
      "encoding": {
        "x": {"field": "energy", "type": "quantitative", "scale": {"domain": [0, 300], "nice": false, "zero": false}, "axis": null},
        "y": {"field": "sigma", "type": "quantitative", "scale": {"type": "log", "domain": [0.1, 258], "nice": false},
          "axis": {"orient": "left", "values": [0.2, 0.3, 0.4, 0.5, 0.6, 0.7, 0.8, 0.9, 2, 3, 4, 5, 6, 7, 8, 9, 20, 30, 40, 50, 60, 70, 80, 90, 200], "tickSize": 4, "labels": false, "title": null}},
        "text": {"field": "label"}
      }
    },
    {
      "data": {"values": [{"label": "Ω = 25 deg", "energy": 10.3, "sigma": 99}]},
      "mark": {"type": "text", "align": "left", "baseline": "alphabetic", "font": "DejaVu Sans", "fontSize": 29, "color": "black"},
      "encoding": {
        "x": {"field": "energy", "type": "quantitative", "scale": {"domain": [0, 300], "nice": false, "zero": false}, "axis": null},
        "y": {"field": "sigma", "type": "quantitative", "scale": {"type": "log", "domain": [0.1, 258], "nice": false},
          "axis": {"orient": "right", "values": [0.2, 0.3, 0.4, 0.5, 0.6, 0.7, 0.8, 0.9, 2, 3, 4, 5, 6, 7, 8, 9, 20, 30, 40, 50, 60, 70, 80, 90, 200], "tickSize": -4, "labels": false, "title": null}},
        "text": {"field": "label"}
      }
    }
  ],
  "resolve": {"axis": {"x": "independent", "y": "independent"}}
}
